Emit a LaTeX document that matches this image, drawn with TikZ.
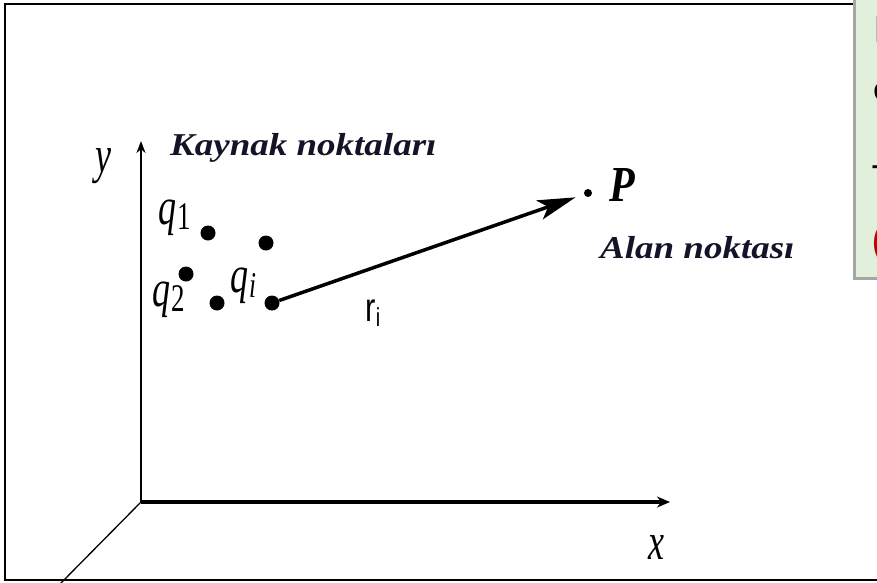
\documentclass[tikz,border=0pt]{standalone}
\usepackage{fontspec}
\setmainfont{Liberation Serif}
\newfontfamily\tnri{Liberation Serif Italic}
\newfontfamily\tnru{Liberation Serif}
\newfontfamily\tnrbi{Liberation Serif Bold Italic}
\newfontfamily\lsans{Liberation Sans}
\newfontfamily\boxfont{Carlito}
\usetikzlibrary{arrows.meta}
\definecolor{boxgreen}{RGB}{226,239,218}
\definecolor{boxgray}{RGB}{166,166,166}
\definecolor{fragred}{RGB}{192,0,0}
\definecolor{txtdark}{RGB}{20,20,40}
\tikzset{
  dot/.style={circle,fill=black,inner sep=0pt,minimum size=15pt},
  smalldot/.style={circle,fill=black,inner sep=0pt,minimum size=8pt},
  lbl/.style={inner sep=0pt,font=\tnri\fontsize{36}{38}\selectfont},
  title/.style={inner sep=0pt,anchor=base west,text=txtdark,font=\tnrbi\fontsize{37}{40}\selectfont},
  vec/.style={line width=3.5pt,-{Stealth[length=38pt,width=20pt,inset=9pt]},shorten >=9pt},
  xaxis/.style={line width=4pt,-{Stealth[length=13pt,width=11pt]}},
  yaxis/.style={line width=2pt,-{Stealth[length=12pt,width=9pt]}},
  frag/.style={inner sep=0pt,anchor=west,font=\boxfont\fontsize{40}{40}\selectfont}
}
\begin{document}
\begin{tikzpicture}[x=1pt,y=-1pt]
\useasboundingbox (0,0) rectangle (877,582);
% frame
\draw[line width=2.2pt] (877,4) -- (5,4) -- (5,580) -- (877,580);
% green box (cut off at right)
\fill[boxgreen] (854,-5) rectangle (890,278);
\draw[boxgray,line width=3pt] (854,-5) -- (854,278) -- (890,278);
\node[frag,text=boxgray] (f1) at (873,30) {I};
\node[frag] (f2) at (873,92) {e};
\node[frag] (f3) at (871,172) {-};
\node[frag,text=fragred] (f4) at (871,244) {(};
% axes
\coordinate (O) at (141,502);
\coordinate (xend) at (670,502);
\coordinate (yend) at (141,141);
\coordinate (zend) at (60,584);
\draw[xaxis] (O) -- (xend);
\draw[yaxis] (O) -- (yend);
\draw[line width=1.3pt] (O) -- (zend);
\node[lbl] (ylab) at (103,166) {\scalebox{1}[1.45]{y}};
\node[lbl] (xlab) at (656,548) {\scalebox{1}[1.45]{x}};
% source points
\node[dot] (q1) at (208,233) {};
\node[dot] (qa) at (266,243) {};
\node[dot] (q2) at (186,274) {};
\node[dot] (qb) at (217,303) {};
\node[dot] (qi) at (272,303) {};
\node[smalldot] (P) at (588,193) {};
\draw[vec] (qi) -- (P);
% labels
\node[lbl] (q1lab) at (175,218) {\scalebox{1}[1.45]{q\kern1pt\raisebox{-3pt}{\tnru\fontsize{27}{27}\selectfont 1}}};
\node[lbl] (q2lab) at (169,300) {\scalebox{1}[1.45]{q\kern1pt\raisebox{-3pt}{\tnru\fontsize{27}{27}\selectfont 2}}};
\node[lbl] (qilab) at (243,286) {\scalebox{1}[1.45]{q\kern1pt\raisebox{-3pt}{\fontsize{25}{25}\selectfont i}}};
\node[lbl,font=\tnrbi\fontsize{42}{42}\selectfont] (Plab) at (622,185) {\scalebox{1}[1.2]{P}};
\node[inner sep=0pt,font=\lsans\fontsize{31}{31}\selectfont] (rlab) at (373,313) {\scalebox{1}[1.3]{r\raisebox{-4pt}{\fontsize{20}{20}\selectfont i}}};
\node[title] (kaynak) at (170,155) {\scalebox{1}[0.86]{Kaynak noktaları}};
\node[title] (alan) at (600,258) {\scalebox{1}[0.86]{Alan noktası}};
\end{tikzpicture}
\end{document}
